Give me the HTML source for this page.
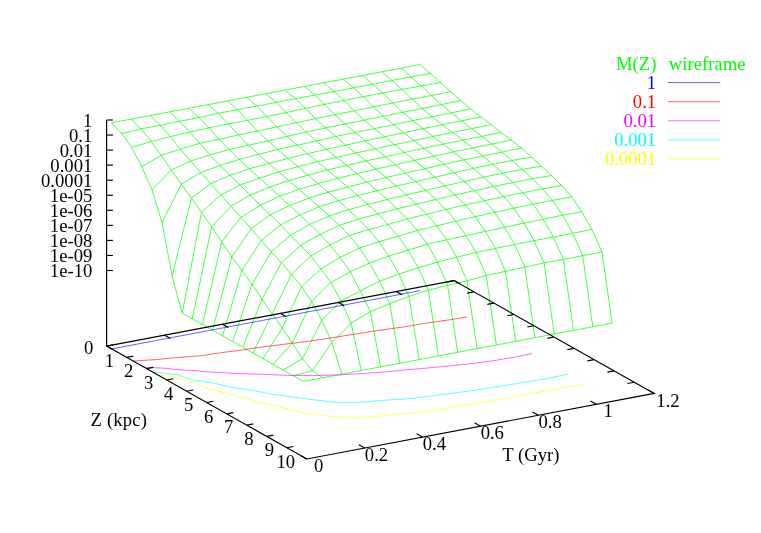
<!DOCTYPE html>
<html><head><meta charset="utf-8"><title>M(Z) wireframe</title>
<style>html,body{margin:0;padding:0;background:#fff}svg{display:block}text{font-family:"Liberation Serif",serif;font-size:18.67px}</style></head><body>
<div style="will-change:transform;width:761px;height:533px">
<svg width="761" height="533" viewBox="0 0 761 533">
<rect width="761" height="533" fill="#fff"/>
<g fill="none" stroke="#00ff00" stroke-width="0.72" stroke-linejoin="round">
<path d="M111.60,122.82 L121.69,133.61 L131.78,147.40 L141.87,166.77 L151.96,189.74 L162.05,222.35 L172.14,276.17 L182.23,313.15 L192.32,318.84 L202.41,324.53 L212.50,330.22 L222.59,335.91 L232.68,341.60 L242.77,347.29 L252.86,352.98 L262.95,358.67 L273.04,364.36 L283.13,370.05 L293.22,375.74 L303.31,381.43"/>
<path d="M130.90,119.18 L140.99,128.91 L151.08,141.50 L161.17,155.30 L171.26,169.99 L181.35,184.24 L191.44,198.03 L201.53,212.28 L211.62,226.82 L221.71,241.68 L231.80,257.12 L241.89,270.56 L251.98,284.38 L262.07,299.16 L272.16,313.86 L282.25,328.10 L292.34,343.06 L302.43,358.88 L312.52,370.59 L322.61,377.79"/>
<path d="M150.20,115.53 L160.29,125.26 L170.38,136.59 L180.47,149.14 L190.56,161.03 L200.65,172.53 L210.74,183.69 L220.83,194.94 L230.92,206.19 L241.01,217.36 L251.10,228.51 L261.19,240.50 L271.28,251.73 L281.37,262.77 L291.46,274.22 L301.55,286.64 L311.64,301.34 L321.73,320.25 L331.82,342.33 L341.91,374.14"/>
<path d="M169.50,111.89 L179.59,121.24 L189.68,132.10 L199.77,143.26 L209.86,154.88 L219.95,165.50 L230.04,175.22 L240.13,185.13 L250.22,195.15 L260.31,205.31 L270.40,214.87 L280.49,224.74 L290.58,235.33 L300.67,245.38 L310.76,255.93 L320.85,268.95 L330.94,282.35 L341.03,300.95 L351.12,323.33 L361.21,370.50"/>
<path d="M188.80,108.24 L198.89,117.61 L208.98,127.90 L219.07,139.39 L229.16,149.59 L239.25,159.48 L249.34,168.74 L259.43,178.14 L269.52,187.08 L279.61,196.30 L289.70,205.48 L299.79,214.98 L309.88,224.34 L319.97,234.50 L330.06,244.96 L340.15,257.30 L350.24,271.72 L360.33,290.98 L370.42,311.56 L380.51,366.85"/>
<path d="M208.10,104.60 L218.19,113.28 L228.28,123.91 L238.37,134.91 L248.46,145.22 L258.55,154.26 L268.64,163.51 L278.73,171.99 L288.82,180.66 L298.91,189.34 L309.00,197.95 L319.09,206.77 L329.18,215.97 L339.27,225.30 L349.36,235.48 L359.45,248.01 L369.54,263.11 L379.63,281.19 L389.72,303.70 L399.81,363.21"/>
<path d="M227.40,100.96 L237.49,109.63 L247.58,120.42 L257.67,131.06 L267.76,140.93 L277.85,149.38 L287.94,158.47 L298.03,166.72 L308.12,175.09 L318.21,183.68 L328.30,192.19 L338.39,200.76 L348.48,209.66 L358.57,219.16 L368.66,229.54 L378.75,241.77 L388.84,255.99 L398.93,274.05 L409.02,296.35 L419.11,359.57"/>
<path d="M246.70,97.31 L256.79,106.06 L266.88,116.47 L276.97,126.81 L287.06,136.39 L297.15,145.19 L307.24,153.71 L317.33,161.81 L327.42,169.98 L337.51,178.43 L347.60,186.99 L357.69,195.57 L367.78,204.42 L377.87,213.80 L387.96,224.47 L398.05,236.26 L408.14,250.19 L418.23,267.82 L428.32,290.18 L438.41,355.92"/>
<path d="M266.00,93.67 L276.09,102.47 L286.18,112.53 L296.27,122.72 L306.36,131.99 L316.45,141.10 L326.54,149.33 L336.63,157.34 L346.72,165.38 L356.81,173.64 L366.90,182.19 L376.99,190.75 L387.08,199.54 L397.17,208.83 L407.26,218.90 L417.35,230.53 L427.44,244.11 L437.53,262.07 L447.62,285.45 L457.71,352.28"/>
<path d="M285.30,90.02 L295.39,98.62 L305.48,108.43 L315.57,118.62 L325.66,127.89 L335.75,136.46 L345.84,145.05 L355.93,152.99 L366.02,160.92 L376.11,169.06 L386.20,177.54 L396.29,186.10 L406.38,194.86 L416.47,204.10 L426.56,214.14 L436.65,225.87 L446.74,239.82 L456.83,257.23 L466.92,280.88 L477.01,348.63"/>
<path d="M304.60,86.38 L314.69,95.10 L324.78,104.34 L334.87,114.68 L344.96,124.02 L355.05,132.42 L365.14,140.93 L375.23,148.85 L385.32,156.73 L395.41,164.79 L405.50,173.15 L415.59,181.70 L425.68,190.39 L435.77,199.54 L445.86,209.50 L455.95,221.21 L466.04,235.65 L476.13,252.46 L486.22,275.55 L496.31,344.99"/>
<path d="M323.90,82.74 L333.99,91.47 L344.08,100.39 L354.17,110.88 L364.26,120.15 L374.35,128.61 L384.44,136.79 L394.53,144.64 L404.62,152.46 L414.71,160.40 L424.80,168.65 L434.89,177.22 L444.98,185.89 L455.07,195.01 L465.16,204.96 L475.25,216.58 L485.34,231.42 L495.43,248.41 L505.52,271.30 L515.61,341.35"/>
<path d="M343.20,79.09 L353.29,87.85 L363.38,96.60 L373.47,106.94 L383.56,116.21 L393.65,124.76 L403.74,132.72 L413.83,140.52 L423.92,148.26 L434.01,156.11 L444.10,164.24 L454.19,172.78 L464.28,181.51 L474.37,190.70 L484.46,200.73 L494.55,212.30 L504.64,227.29 L514.73,244.51 L524.82,267.06 L534.91,337.70"/>
<path d="M362.50,75.45 L372.59,84.24 L382.68,92.95 L392.77,102.99 L402.86,112.26 L412.95,120.53 L423.04,128.67 L433.13,136.44 L443.22,144.10 L453.31,151.88 L463.40,159.92 L473.49,168.41 L483.58,177.20 L493.67,186.49 L503.76,196.62 L513.85,208.19 L523.94,223.17 L534.03,240.70 L544.12,262.96 L554.21,334.06"/>
<path d="M381.80,71.80 L391.89,80.47 L401.98,89.46 L412.07,99.20 L422.16,108.47 L432.25,116.88 L442.34,124.73 L452.43,132.49 L462.52,140.17 L472.61,147.94 L482.70,155.96 L492.79,164.40 L502.88,173.21 L512.97,182.53 L523.06,192.67 L533.15,204.20 L543.24,219.15 L553.33,236.97 L563.42,259.47 L573.51,330.41"/>
<path d="M401.10,68.16 L411.19,76.88 L421.28,85.97 L431.37,95.55 L441.46,104.53 L451.55,112.80 L461.64,120.83 L471.73,128.61 L481.82,136.30 L491.91,144.07 L502.00,152.09 L512.09,160.52 L522.18,169.34 L532.27,178.67 L542.36,188.85 L552.45,200.33 L562.54,215.14 L572.63,233.25 L582.72,255.67 L592.81,326.77"/>
<path d="M420.40,64.52 L430.49,73.50 L440.58,82.62 L450.67,91.76 L460.76,100.73 L470.85,108.96 L480.94,116.88 L491.03,124.66 L501.12,132.43 L511.21,140.06 L521.30,147.98 L531.39,156.97 L541.48,166.24 L551.57,175.52 L561.66,185.56 L571.75,196.94 L581.84,211.80 L591.93,229.50 L602.02,252.03 L612.11,323.13"/>
<path d="M111.60,122.82 L130.90,119.18 L150.20,115.53 L169.50,111.89 L188.80,108.24 L208.10,104.60 L227.40,100.96 L246.70,97.31 L266.00,93.67 L285.30,90.02 L304.60,86.38 L323.90,82.74 L343.20,79.09 L362.50,75.45 L381.80,71.80 L401.10,68.16 L420.40,64.52"/>
<path d="M121.69,133.61 L140.99,128.91 L160.29,125.26 L179.59,121.24 L198.89,117.61 L218.19,113.28 L237.49,109.63 L256.79,106.06 L276.09,102.47 L295.39,98.62 L314.69,95.10 L333.99,91.47 L353.29,87.85 L372.59,84.24 L391.89,80.47 L411.19,76.88 L430.49,73.50"/>
<path d="M131.78,147.40 L151.08,141.50 L170.38,136.59 L189.68,132.10 L208.98,127.90 L228.28,123.91 L247.58,120.42 L266.88,116.47 L286.18,112.53 L305.48,108.43 L324.78,104.34 L344.08,100.39 L363.38,96.60 L382.68,92.95 L401.98,89.46 L421.28,85.97 L440.58,82.62"/>
<path d="M141.87,166.77 L161.17,155.30 L180.47,149.14 L199.77,143.26 L219.07,139.39 L238.37,134.91 L257.67,131.06 L276.97,126.81 L296.27,122.72 L315.57,118.62 L334.87,114.68 L354.17,110.88 L373.47,106.94 L392.77,102.99 L412.07,99.20 L431.37,95.55 L450.67,91.76"/>
<path d="M151.96,189.74 L171.26,169.99 L190.56,161.03 L209.86,154.88 L229.16,149.59 L248.46,145.22 L267.76,140.93 L287.06,136.39 L306.36,131.99 L325.66,127.89 L344.96,124.02 L364.26,120.15 L383.56,116.21 L402.86,112.26 L422.16,108.47 L441.46,104.53 L460.76,100.73"/>
<path d="M162.05,222.35 L181.35,184.24 L200.65,172.53 L219.95,165.50 L239.25,159.48 L258.55,154.26 L277.85,149.38 L297.15,145.19 L316.45,141.10 L335.75,136.46 L355.05,132.42 L374.35,128.61 L393.65,124.76 L412.95,120.53 L432.25,116.88 L451.55,112.80 L470.85,108.96"/>
<path d="M172.14,276.17 L191.44,198.03 L210.74,183.69 L230.04,175.22 L249.34,168.74 L268.64,163.51 L287.94,158.47 L307.24,153.71 L326.54,149.33 L345.84,145.05 L365.14,140.93 L384.44,136.79 L403.74,132.72 L423.04,128.67 L442.34,124.73 L461.64,120.83 L480.94,116.88"/>
<path d="M182.23,313.15 L201.53,212.28 L220.83,194.94 L240.13,185.13 L259.43,178.14 L278.73,171.99 L298.03,166.72 L317.33,161.81 L336.63,157.34 L355.93,152.99 L375.23,148.85 L394.53,144.64 L413.83,140.52 L433.13,136.44 L452.43,132.49 L471.73,128.61 L491.03,124.66"/>
<path d="M192.32,318.84 L211.62,226.82 L230.92,206.19 L250.22,195.15 L269.52,187.08 L288.82,180.66 L308.12,175.09 L327.42,169.98 L346.72,165.38 L366.02,160.92 L385.32,156.73 L404.62,152.46 L423.92,148.26 L443.22,144.10 L462.52,140.17 L481.82,136.30 L501.12,132.43"/>
<path d="M202.41,324.53 L221.71,241.68 L241.01,217.36 L260.31,205.31 L279.61,196.30 L298.91,189.34 L318.21,183.68 L337.51,178.43 L356.81,173.64 L376.11,169.06 L395.41,164.79 L414.71,160.40 L434.01,156.11 L453.31,151.88 L472.61,147.94 L491.91,144.07 L511.21,140.06"/>
<path d="M212.50,330.22 L231.80,257.12 L251.10,228.51 L270.40,214.87 L289.70,205.48 L309.00,197.95 L328.30,192.19 L347.60,186.99 L366.90,182.19 L386.20,177.54 L405.50,173.15 L424.80,168.65 L444.10,164.24 L463.40,159.92 L482.70,155.96 L502.00,152.09 L521.30,147.98"/>
<path d="M222.59,335.91 L241.89,270.56 L261.19,240.50 L280.49,224.74 L299.79,214.98 L319.09,206.77 L338.39,200.76 L357.69,195.57 L376.99,190.75 L396.29,186.10 L415.59,181.70 L434.89,177.22 L454.19,172.78 L473.49,168.41 L492.79,164.40 L512.09,160.52 L531.39,156.97"/>
<path d="M232.68,341.60 L251.98,284.38 L271.28,251.73 L290.58,235.33 L309.88,224.34 L329.18,215.97 L348.48,209.66 L367.78,204.42 L387.08,199.54 L406.38,194.86 L425.68,190.39 L444.98,185.89 L464.28,181.51 L483.58,177.20 L502.88,173.21 L522.18,169.34 L541.48,166.24"/>
<path d="M242.77,347.29 L262.07,299.16 L281.37,262.77 L300.67,245.38 L319.97,234.50 L339.27,225.30 L358.57,219.16 L377.87,213.80 L397.17,208.83 L416.47,204.10 L435.77,199.54 L455.07,195.01 L474.37,190.70 L493.67,186.49 L512.97,182.53 L532.27,178.67 L551.57,175.52"/>
<path d="M252.86,352.98 L272.16,313.86 L291.46,274.22 L310.76,255.93 L330.06,244.96 L349.36,235.48 L368.66,229.54 L387.96,224.47 L407.26,218.90 L426.56,214.14 L445.86,209.50 L465.16,204.96 L484.46,200.73 L503.76,196.62 L523.06,192.67 L542.36,188.85 L561.66,185.56"/>
<path d="M262.95,358.67 L282.25,328.10 L301.55,286.64 L320.85,268.95 L340.15,257.30 L359.45,248.01 L378.75,241.77 L398.05,236.26 L417.35,230.53 L436.65,225.87 L455.95,221.21 L475.25,216.58 L494.55,212.30 L513.85,208.19 L533.15,204.20 L552.45,200.33 L571.75,196.94"/>
<path d="M273.04,364.36 L292.34,343.06 L311.64,301.34 L330.94,282.35 L350.24,271.72 L369.54,263.11 L388.84,255.99 L408.14,250.19 L427.44,244.11 L446.74,239.82 L466.04,235.65 L485.34,231.42 L504.64,227.29 L523.94,223.17 L543.24,219.15 L562.54,215.14 L581.84,211.80"/>
<path d="M283.13,370.05 L302.43,358.88 L321.73,320.25 L341.03,300.95 L360.33,290.98 L379.63,281.19 L398.93,274.05 L418.23,267.82 L437.53,262.07 L456.83,257.23 L476.13,252.46 L495.43,248.41 L514.73,244.51 L534.03,240.70 L553.33,236.97 L572.63,233.25 L591.93,229.50"/>
<path d="M293.22,375.74 L312.52,370.59 L331.82,342.33 L351.12,323.33 L370.42,311.56 L389.72,303.70 L409.02,296.35 L428.32,290.18 L447.62,285.45 L466.92,280.88 L486.22,275.55 L505.52,271.30 L524.82,267.06 L544.12,262.96 L563.42,259.47 L582.72,255.67 L602.02,252.03"/>
<path d="M303.31,381.43 L322.61,377.79 L341.91,374.14 L361.21,370.50 L380.51,366.85 L399.81,363.21 L419.11,359.57 L438.41,355.92 L457.71,352.28 L477.01,348.63 L496.31,344.99 L515.61,341.35 L534.91,337.70 L554.21,334.06 L573.51,330.41 L592.81,326.77 L612.11,323.13"/>
</g>
<g fill="none" stroke-width="0.62" stroke-linejoin="round">
<path stroke="#0000ff" d="M111.60,348.92 L420.40,290.62"/>
<path stroke="#ff0000" d="M133.15,361.07 L156.19,359.54 L178.28,357.47 L193.29,356.28 L201.05,355.78 L221.26,352.65 L242.31,349.99 L262.53,346.87 L283.77,344.32 L304.92,341.72 L325.49,338.79 L330.81,337.91 L345.58,335.59 L365.69,332.40 L386.00,329.33 L406.75,326.50 L426.40,323.05 L447.09,320.20 L467.09,316.94"/>
<path stroke="#ff00ff" d="M143.75,367.05 L168.81,368.50 L173.67,369.40 L196.94,370.78 L203.51,371.70 L226.42,372.81 L232.20,373.35 L259.26,374.21 L259.52,374.23 L287.34,375.39 L293.19,375.39 L313.30,375.49 L335.17,375.06 L338.20,375.01 L361.54,373.64 L384.35,371.98 L399.59,370.50 L406.30,369.83 L428.60,367.88 L450.67,365.80 L472.51,363.59 L487.96,361.40 L493.08,360.66 L513.16,357.45 L532.07,353.59"/>
<path stroke="#00ffff" d="M152.33,371.89 L176.57,374.63 L191.33,379.44 L191.95,379.71 L212.98,382.94 L230.90,387.16 L230.95,387.17 L253.57,390.47 L267.97,393.52 L273.53,394.30 L296.61,397.53 L302.56,398.50 L320.76,400.57 L334.89,402.20 L351.48,402.37 L360.54,402.14 L383.20,400.39 L406.29,398.88 L414.56,398.05 L427.72,396.44 L448.69,393.73 L469.56,390.98 L489.90,387.92 L510.00,384.73 L529.87,381.41 L549.54,377.97 L568.33,374.04"/>
<path stroke="#ffff00" d="M157.97,375.07 L168.14,376.22 L187.43,380.17 L200.16,385.37 L209.42,389.56 L213.81,390.38 L232.06,394.53 L247.91,399.13 L257.70,402.25 L264.67,403.57 L282.96,407.71 L299.72,412.14 L302.08,412.75 L321.78,415.57 L334.83,416.69 L352.14,417.43 L361.74,417.34 L384.36,415.57 L406.13,413.32 L421.13,412.00 L428.10,411.18 L447.98,407.87 L467.83,404.53 L487.62,401.16 L507.30,397.73 L526.94,394.28 L546.48,390.77 L566.00,387.25 L585.17,383.53"/>
</g>
<g fill="none" stroke="#000" stroke-width="1.15" stroke-linecap="butt" stroke-linejoin="miter">
<path d="M106.6,346.1 L453.9,280.6 L654.2,393.4 L306.8,459.0 Z"/>
<path d="M106.6,346.1 L106.6,120.00000000000003"/>
<path d="M106.6,120.00 h6.3"/>
<path d="M106.6,135.05 h6.3"/>
<path d="M106.6,150.10 h6.3"/>
<path d="M106.6,165.15 h6.3"/>
<path d="M106.6,180.20 h6.3"/>
<path d="M106.6,195.25 h6.3"/>
<path d="M106.6,210.30 h6.3"/>
<path d="M106.6,225.35 h6.3"/>
<path d="M106.6,240.40 h6.3"/>
<path d="M106.6,255.45 h6.3"/>
<path d="M106.6,270.50 h6.3"/>
<path d="M106.60,346.10 l6.68,-1.26"/>
<path d="M453.90,280.60 l-6.68,1.26"/>
<path d="M126.62,357.39 l6.68,-1.26"/>
<path d="M473.92,291.89 l-6.68,1.26"/>
<path d="M146.64,368.68 l6.68,-1.26"/>
<path d="M493.94,303.18 l-6.68,1.26"/>
<path d="M166.66,379.97 l6.68,-1.26"/>
<path d="M513.96,314.47 l-6.68,1.26"/>
<path d="M186.68,391.26 l6.68,-1.26"/>
<path d="M533.98,325.76 l-6.68,1.26"/>
<path d="M206.70,402.55 l6.68,-1.26"/>
<path d="M554.00,337.05 l-6.68,1.26"/>
<path d="M226.72,413.84 l6.68,-1.26"/>
<path d="M574.02,348.34 l-6.68,1.26"/>
<path d="M246.74,425.13 l6.68,-1.26"/>
<path d="M594.04,359.63 l-6.68,1.26"/>
<path d="M266.76,436.42 l6.68,-1.26"/>
<path d="M614.06,370.92 l-6.68,1.26"/>
<path d="M286.78,447.71 l6.68,-1.26"/>
<path d="M634.08,382.21 l-6.68,1.26"/>
<path d="M306.80,459.00 l-5.92,-3.34"/>
<path d="M106.60,346.10 l5.92,3.34"/>
<path d="M364.70,448.07 l-5.92,-3.34"/>
<path d="M164.50,335.17 l5.92,3.34"/>
<path d="M422.60,437.13 l-5.92,-3.34"/>
<path d="M222.40,324.23 l5.92,3.34"/>
<path d="M480.50,426.20 l-5.92,-3.34"/>
<path d="M280.30,313.30 l5.92,3.34"/>
<path d="M538.40,415.27 l-5.92,-3.34"/>
<path d="M338.20,302.37 l5.92,3.34"/>
<path d="M596.30,404.33 l-5.92,-3.34"/>
<path d="M396.10,291.43 l5.92,3.34"/>
<path d="M654.20,393.40 l-5.92,-3.34"/>
<path d="M454.00,280.50 l5.92,3.34"/>
</g>
<g>
<text x="92.30" y="126.50" text-anchor="end" fill="#000">1</text>
<text x="92.30" y="141.55" text-anchor="end" fill="#000">0.1</text>
<text x="92.30" y="156.60" text-anchor="end" fill="#000">0.01</text>
<text x="92.30" y="171.65" text-anchor="end" fill="#000">0.001</text>
<text x="92.30" y="186.70" text-anchor="end" fill="#000">0.0001</text>
<text x="92.30" y="201.75" text-anchor="end" fill="#000">1e-05</text>
<text x="92.30" y="216.80" text-anchor="end" fill="#000">1e-06</text>
<text x="92.30" y="231.85" text-anchor="end" fill="#000">1e-07</text>
<text x="92.30" y="246.90" text-anchor="end" fill="#000">1e-08</text>
<text x="92.30" y="261.95" text-anchor="end" fill="#000">1e-09</text>
<text x="92.30" y="277.00" text-anchor="end" fill="#000">1e-10</text>
<text x="93.40" y="354.10" text-anchor="end" fill="#000">0</text>
<text x="109.40" y="366.80" text-anchor="middle" fill="#000">1</text>
<text x="128.70" y="377.20" text-anchor="middle" fill="#000">2</text>
<text x="148.70" y="388.70" text-anchor="middle" fill="#000">3</text>
<text x="168.70" y="399.90" text-anchor="middle" fill="#000">4</text>
<text x="188.60" y="411.20" text-anchor="middle" fill="#000">5</text>
<text x="208.60" y="423.20" text-anchor="middle" fill="#000">6</text>
<text x="228.60" y="433.20" text-anchor="middle" fill="#000">7</text>
<text x="249.00" y="444.80" text-anchor="middle" fill="#000">8</text>
<text x="269.30" y="455.60" text-anchor="middle" fill="#000">9</text>
<text x="285.80" y="468.20" text-anchor="middle" fill="#000">10</text>
<text x="318.60" y="471.90" text-anchor="middle" fill="#000">0</text>
<text x="376.50" y="460.97" text-anchor="middle" fill="#000">0.2</text>
<text x="434.40" y="450.03" text-anchor="middle" fill="#000">0.4</text>
<text x="492.30" y="439.10" text-anchor="middle" fill="#000">0.6</text>
<text x="550.20" y="428.17" text-anchor="middle" fill="#000">0.8</text>
<text x="608.10" y="417.23" text-anchor="middle" fill="#000">1</text>
<text x="656.30" y="406.50" text-anchor="start" fill="#000">1.2</text>
<text x="90.6" y="425.5" textLength="56.3" lengthAdjust="spacing">Z (kpc)</text>
<text x="502.30" y="461.00" text-anchor="start" fill="#000">T (Gyr)</text>
<text x="656.40" y="69.60" text-anchor="end" fill="#00ff00">M(Z)</text>
<text x="668.80" y="69.60" text-anchor="start" fill="#00ff00">wireframe</text>
<text x="656.20" y="88.90" text-anchor="end" fill="#0000ff">1</text>
<line x1="667.70" y1="82.60" x2="720.30" y2="82.60" stroke="#0000ff" stroke-width="0.62"/>
<text x="656.20" y="108.00" text-anchor="end" fill="#ff0000">0.1</text>
<line x1="667.70" y1="101.70" x2="720.30" y2="101.70" stroke="#ff0000" stroke-width="0.62"/>
<text x="656.20" y="127.10" text-anchor="end" fill="#ff00ff">0.01</text>
<line x1="667.70" y1="120.80" x2="720.30" y2="120.80" stroke="#ff00ff" stroke-width="0.62"/>
<text x="656.20" y="146.20" text-anchor="end" fill="#00ffff">0.001</text>
<line x1="667.70" y1="139.90" x2="720.30" y2="139.90" stroke="#00ffff" stroke-width="0.62"/>
<text x="656.20" y="165.30" text-anchor="end" fill="#ffff00">0.0001</text>
<line x1="667.70" y1="159.00" x2="720.30" y2="159.00" stroke="#ffff00" stroke-width="0.62"/>
</g>
</svg></div></body></html>
